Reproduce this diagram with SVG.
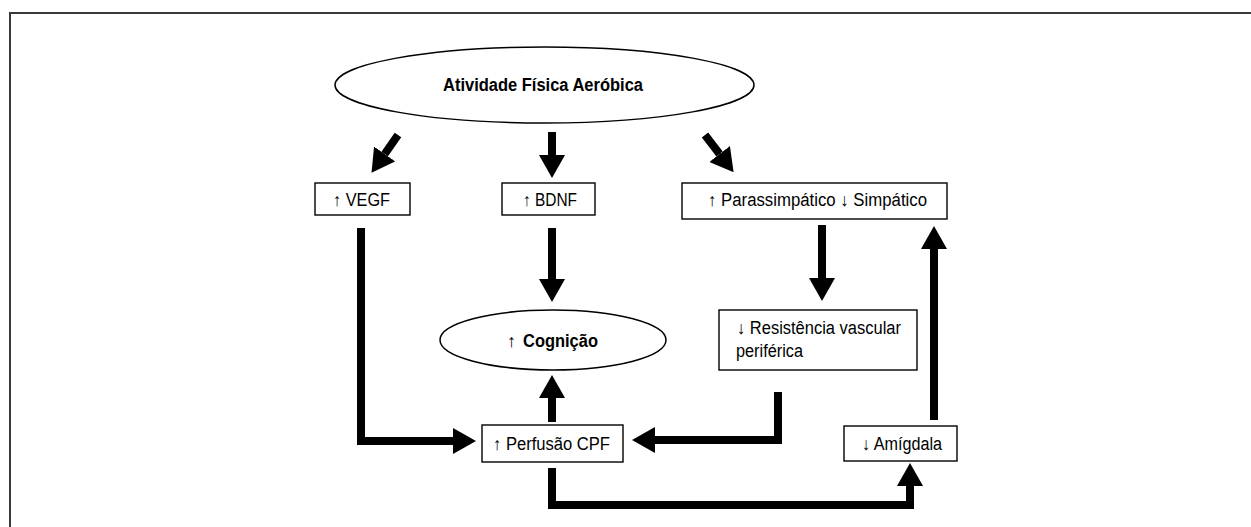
<svg xmlns="http://www.w3.org/2000/svg" width="1251" height="527" viewBox="0 0 1251 527">
<style>
.box{fill:#fff;stroke:#000;stroke-width:1.4}
.ell{fill:#fff;stroke:#000;stroke-width:1.5}
.t{font-family:"Liberation Sans",Arial,sans-serif;font-size:18px;fill:#000}
.b{font-weight:bold}
.c{text-anchor:middle}
.con path{fill:none;stroke:#000;stroke-width:8;stroke-linejoin:miter;stroke-linecap:butt;marker-end:url(#ah)}
</style>
<defs>
<marker id="ah" viewBox="0 0 23 26" refX="0" refY="13" markerWidth="23" markerHeight="26" markerUnits="userSpaceOnUse" orient="auto">
<path d="M0,0 L23,13 L0,26 Z" fill="#000"/>
</marker>
</defs>
<rect width="1251" height="527" fill="#fff"/>
<path d="M10,527 V13 H1251" fill="none" stroke="#3a3a3a" stroke-width="2"/>
<g class="con" id="connectors">
<path d="M398,135 L384.7,154"/>
<path d="M552,132 V155"/>
<path d="M705,135 L719.6,154"/>
<path d="M361,228 V441 H453"/>
<path d="M552,228 V279"/>
<path d="M552,422 V398"/>
<path d="M552,468 V505 H910 V486"/>
<path d="M822,225 V278"/>
<path d="M778,392 V440 H655"/>
<path d="M934,420 V249"/>
</g>
<g id="atividade">
<ellipse class="ell" cx="544.5" cy="85" rx="209.5" ry="38"/>
<text class="t b c" x="543" y="91" textLength="200" lengthAdjust="spacingAndGlyphs">Atividade Física Aeróbica</text>
</g>
<g id="vegf">
<rect class="box" x="315" y="183" width="95" height="32"/>
<text class="t c" x="361.5" y="206" textLength="57" lengthAdjust="spacingAndGlyphs">↑ VEGF</text>
</g>
<g id="bdnf">
<rect class="box" x="502" y="183" width="93" height="32"/>
<text class="t c" x="550" y="206" textLength="54" lengthAdjust="spacingAndGlyphs">↑ BDNF</text>
</g>
<g id="autonomico">
<rect class="box" x="682" y="183" width="265" height="36"/>
<text class="t c" x="817.5" y="206" textLength="219" lengthAdjust="spacingAndGlyphs">↑ Parassimpático ↓ Simpático</text>
</g>
<g id="cognicao">
<ellipse class="ell" cx="553" cy="340" rx="113" ry="30"/>
<text class="t" x="507" y="346.5">↑</text>
<text class="t b" x="523" y="346.5" textLength="75" lengthAdjust="spacingAndGlyphs">Cognição</text>
</g>
<g id="resistencia">
<rect class="box" x="719" y="310" width="198" height="60"/>
<text class="t" x="737" y="334" textLength="164" lengthAdjust="spacingAndGlyphs">↓ Resistência vascular</text>
<text class="t" x="736" y="357" textLength="67" lengthAdjust="spacingAndGlyphs">periférica</text>
</g>
<g id="perfusao">
<rect class="box" x="482" y="425" width="141" height="37"/>
<text class="t c" x="551.5" y="450" textLength="117" lengthAdjust="spacingAndGlyphs">↑ Perfusão CPF</text>
</g>
<g id="amigdala">
<rect class="box" x="844" y="426" width="113" height="35"/>
<text class="t c" x="902" y="450" textLength="80" lengthAdjust="spacingAndGlyphs">↓ Amígdala</text>
</g>
</svg>
